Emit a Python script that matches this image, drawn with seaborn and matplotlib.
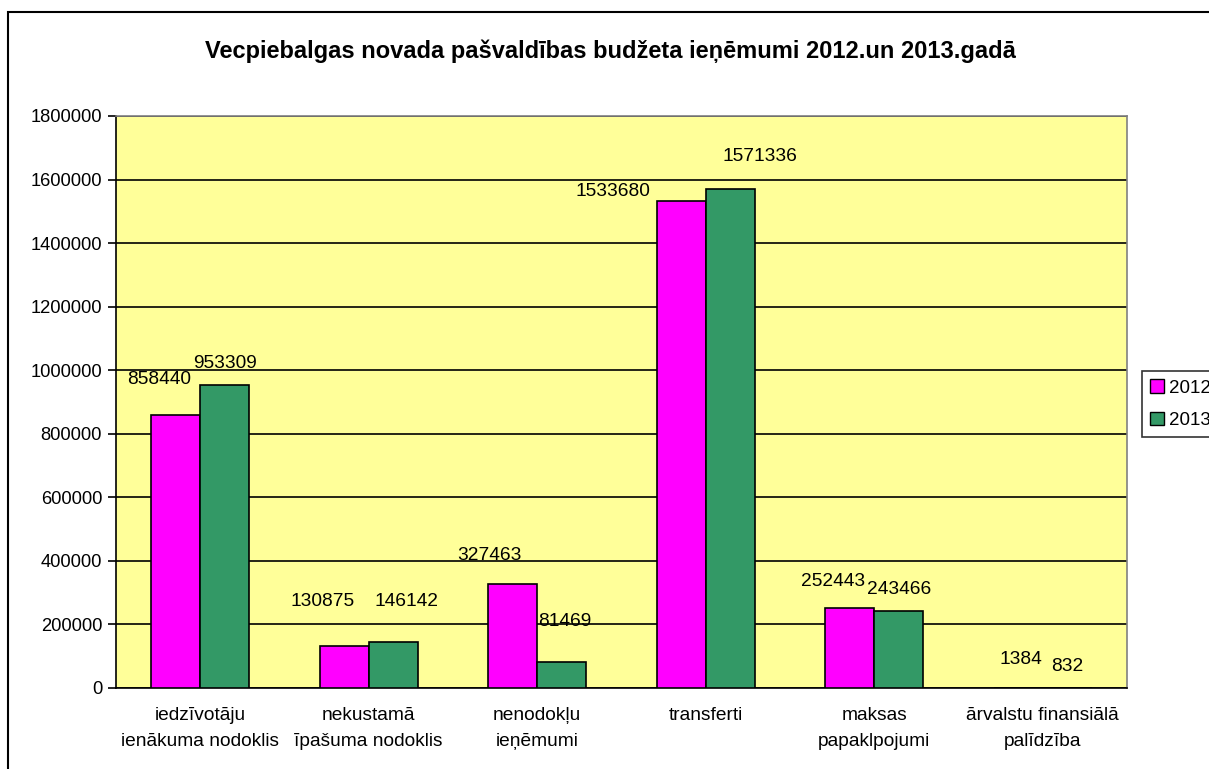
import pandas as pd
import matplotlib
matplotlib.use('Agg')
import matplotlib.pyplot as plt
import seaborn as sns
from matplotlib.patches import Rectangle, Patch

# Chart data
categories = ['iedzīvotāju\nienākuma nodoklis', 'nekustamā\nīpašuma nodoklis',
              'nenodokļu\nieņēmumi', 'transferti', 'maksas\npapaklpojumi',
              'ārvalstu finansiālā\npalīdzība']
years = ['2012', '2013']
values_2012 = [858440, 130875, 327463, 1533680, 252443, 1384]
values_2013 = [953309, 146142, 81469, 1571336, 243466, 832]
y_ticks = list(range(0, 1800001, 200000))

df = pd.DataFrame({
    'kategorija': categories * 2,
    'gads': [years[0]] * len(categories) + [years[1]] * len(categories),
    'summa': values_2012 + values_2013,
})

sns.set_style('white')
plt.rcParams['font.family'] = ['Liberation Sans', 'DejaVu Sans']
plt.rcParams['text.color'] = 'black'
plt.rcParams['xtick.color'] = 'black'
plt.rcParams['ytick.color'] = 'black'
plt.rcParams['axes.labelcolor'] = 'black'

fig = plt.figure(figsize=(12.09, 7.69), dpi=100)
ax = fig.add_axes([116 / 1209, 1 - 688 / 769, (1127 - 116) / 1209, (688 - 116) / 769])
ax.set_facecolor('#FFFF99')

colors = {'2012': '#FF00FF', '2013': '#339966'}
sns.barplot(data=df, x='kategorija', y='summa', hue='gads', palette=colors,
            width=0.58, gap=0, edgecolor='black', linewidth=1.2,
            saturation=1, legend=False, ax=ax, zorder=3)

# data labels (Excel places them a bit irregularly) - offsets in pixels
offsets = {
    0: [(-17, 36), (-22, 45), (-23, 28), (-68, 9), (-17, 26), (3, 28)],
    1: [(0, 22), (13, 40), (3, 41), (30, 32), (0, 21), (0, 21)],
}
for i, cont in enumerate(ax.containers):
    for j, bar in enumerate(cont):
        dx, dy = offsets[i][j]
        ax.annotate(f'{int(bar.get_height())}',
                    (bar.get_x() + bar.get_width() / 2, bar.get_height()),
                    xytext=(dx, dy), textcoords='offset pixels',
                    ha='center', va='center', fontsize=13.8, color='black', zorder=5)

ax.set_ylim(0, 1800000)
ax.set_xlim(-0.5, len(categories) - 0.5)
ax.set_yticks(y_ticks)
ax.set_yticklabels([str(t) for t in y_ticks], fontsize=13.2)
ax.yaxis.grid(True, color='black', linewidth=1.2, zorder=1)
ax.set_axisbelow(True)

ax.set_xticks(range(len(categories)))
ax.set_xticklabels(categories, fontsize=13.8, linespacing=1.65)
ax.set_xticks([k - 0.5 for k in range(len(categories) + 1)], minor=True)
ax.tick_params(axis='x', which='major', length=0, pad=14)
ax.tick_params(axis='x', which='minor', length=6, width=1.2, color='black', direction='out')
ax.tick_params(axis='y', length=6, width=1.2, color='black', direction='out', left=True, pad=4)

for side in ['top', 'right']:
    ax.spines[side].set_color('#808080')
    ax.spines[side].set_linewidth(1.2)
for side in ['left', 'bottom']:
    ax.spines[side].set_color('black')
    ax.spines[side].set_linewidth(1.2)

ax.set_xlabel('')
ax.set_ylabel('')

fig.text(0.5 * (204 + 1016) / 1209, 1 - 51 / 769,
         'Vecpiebalgas novada pašvaldības budžeta ieņēmumi 2012.un 2013.gadā',
         ha='center', va='center', fontsize=17, fontweight='bold', color='black')

# outer chart frame
fig.patches.append(Rectangle((8 / 1209, -0.1), 1.2, 1 - 12 / 769 + 0.1,
                             transform=fig.transFigure, fill=False,
                             edgecolor='black', linewidth=1.5))

handles = [Patch(facecolor=colors[y], edgecolor='black', label=y) for y in years]
leg = fig.legend(handles=handles, loc='upper left',
                 bbox_to_anchor=(1142 / 1209, 1 - 371 / 769),
                 fontsize=13.5, frameon=True, fancybox=False, edgecolor='black',
                 handlelength=0.7, handleheight=0.7, handletextpad=0.3,
                 borderpad=0.45, labelspacing=0.8, borderaxespad=0)
leg.get_frame().set_linewidth(1.2)

plt.savefig('out.png', dpi=100)
